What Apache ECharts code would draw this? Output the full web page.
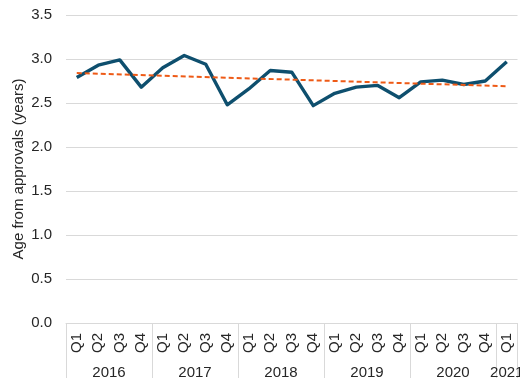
<!DOCTYPE html>
<html>
<head>
<meta charset="utf-8">
<script src="https://cdn.jsdelivr.net/npm/echarts@6/dist/echarts.min.js"></script>
<style>html,body{margin:0;padding:0;background:#fff}#c{width:520px;height:378px}</style>
</head>
<body>
<div id="c"></div>
<script>
// ---- data ----
const years = ['2016', '2017', '2018', '2019', '2020', '2021'];
const quartersPerYear = [4, 4, 4, 4, 4, 1];
const quarterNames = ['Q1', 'Q2', 'Q3', 'Q4'];
const ageValues = [2.79, 2.93, 2.99, 2.68, 2.90, 3.04, 2.94, 2.48,
                   2.66, 2.87, 2.85, 2.47, 2.61, 2.68, 2.70, 2.56,
                   2.74, 2.76, 2.71, 2.75, 2.97];
const trendStart = 2.84;
const trendEnd = 2.69;
const yTicks = [0, 0.5, 1.0, 1.5, 2.0, 2.5, 3.0, 3.5];

// ---- derived structures ----
const quarters = [];
const yearStartIdx = [];
years.forEach((y, i) => {
  yearStartIdx.push(quarters.length);
  for (let q = 0; q < quartersPerYear[i]; q++) quarters.push(quarterNames[q]);
});
const n = quarters.length;
// half-step axis for centred year labels
const halfCats = [];
for (let k = 0; k <= 2 * n; k++) halfCats.push(String(k));
const yearAtHalf = {};
years.forEach((y, i) => {
  const centre = yearStartIdx[i] * 2 + quartersPerYear[i];
  yearAtHalf[centre] = y;
});
const trend = ageValues.map((v, i) => i === 0 ? trendStart : (i === n - 1 ? trendEnd : null));

const txt = '#262626';
const fs = 15;
const font = 'Liberation Sans, Arial, sans-serif';
const chart = echarts.init(document.getElementById('c'), null, {renderer: 'canvas'});
chart.setOption({
  animation: false,
  textStyle: {fontFamily: font},
  grid: {left: 66, right: 2.5, top: 15, bottom: 55, containLabel: false, outerBoundsMode: 'none'},
  xAxis: [{
    type: 'category',
    position: 'bottom',
    data: quarters,
    boundaryGap: true,
    axisLine: {show: true, lineStyle: {color: '#d9d9d9', width: 1}},
    axisTick: {
      show: true, length: 56, inside: false,
      interval: (i) => yearStartIdx.indexOf(i) >= 0,
      lineStyle: {color: '#d9d9d9', width: 1}
    },
    axisLabel: {interval: 0, rotate: 90, margin: 10, color: txt, fontSize: fs, fontFamily: font},
    splitLine: {show: false}
  }, {
    type: 'category',
    position: 'bottom',
    data: halfCats,
    boundaryGap: false,
    axisLine: {show: false},
    axisTick: {show: false},
    axisLabel: {
      interval: 0, margin: 42, color: txt, fontSize: fs, fontFamily: font,
      formatter: (v) => yearAtHalf[v] || ''
    },
    splitLine: {show: false}
  }],
  yAxis: {
    type: 'value',
    min: 0, max: 3.5, interval: 0.5,
    name: 'Age from approvals (years)',
    nameLocation: 'middle',
    nameGap: 40,
    nameMoveOverlap: false,
    nameTextStyle: {color: txt, fontSize: fs, fontFamily: font},
    axisLine: {show: false},
    axisTick: {show: false},
    axisLabel: {color: txt, fontSize: fs, margin: 14, fontFamily: font,
      formatter: (v) => yTicks.indexOf(v) >= 0 ? v.toFixed(1) : ''},
    splitLine: {lineStyle: {color: '#d9d9d9', width: 1}}
  },
  series: [{
    type: 'line',
    xAxisIndex: 0,
    data: ageValues,
    symbol: 'none',
    lineStyle: {color: '#0e4f6e', width: 3.4, join: 'round'},
    z: 3
  }, {
    type: 'line',
    xAxisIndex: 0,
    data: trend,
    connectNulls: true,
    symbol: 'none',
    lineStyle: {color: '#ee5a16', width: 2, type: [5, 3]},
    z: 4
  }]
});
</script>
</body>
</html>
